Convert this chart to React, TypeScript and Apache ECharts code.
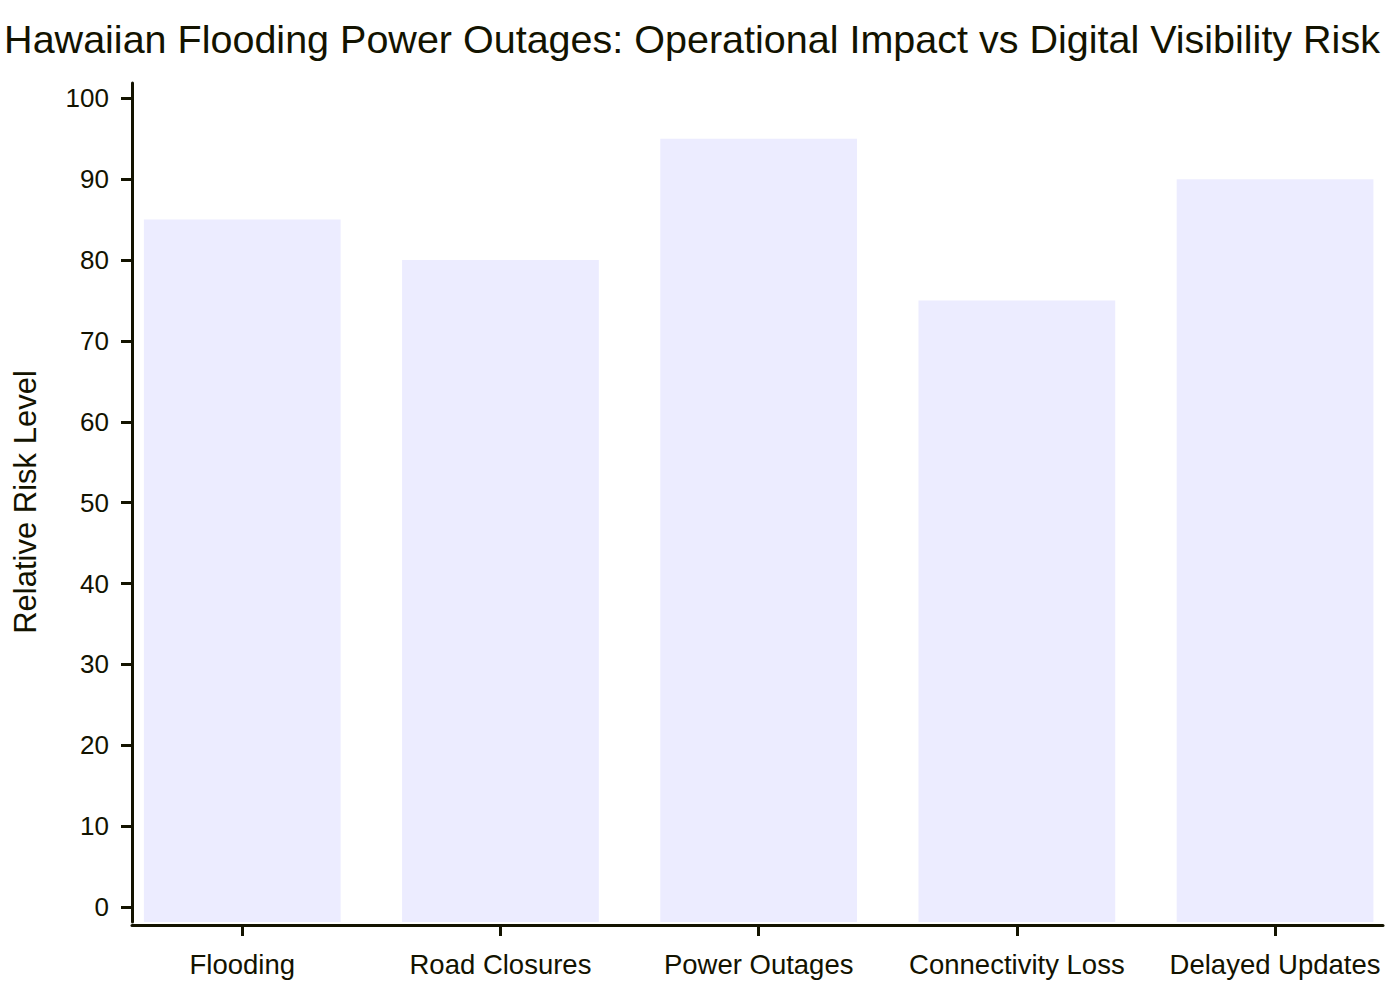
import React, { useEffect, useRef } from "react";
import * as echarts from "echarts";

const TITLE = "Hawaiian Flooding Power Outages: Operational Impact vs Digital Visibility Risk";
const Y_TITLE = "Relative Risk Level";
const categories = ["Flooding", "Road Closures", "Power Outages", "Connectivity Loss", "Delayed Updates"];
const riskValues = [85, 80, 95, 75, 90];
const yTicks = [0, 10, 20, 30, 40, 50, 60, 70, 80, 90, 100];

const TEXT = "#131300";
const BAR = "#ECECFF";
const FONT = "'Liberation Sans', Arial, sans-serif";

export default function App() {
  const ref = useRef<HTMLDivElement>(null);
  useEffect(() => {
    if (!ref.current) return;
    const chart = echarts.init(ref.current, null, { renderer: "svg" });
    const xIdx = categories.map((_, i) => i);
    chart.setOption({
      animation: false,
      backgroundColor: "#ffffff",
      textStyle: { fontFamily: FONT },
      grid: { left: 132, top: 83, width: 1251, height: 839, containLabel: false },
      xAxis: {
        type: "value",
        min: -0.427,
        max: 4.418,
        offset: 3,
        z: 5,
        splitLine: { show: false },
        axisLine: { show: true, onZero: false, lineStyle: { color: TEXT, width: 3 } },
        axisTick: { show: true, length: 11, lineStyle: { color: TEXT, width: 3 }, customValues: xIdx },
        axisLabel: {
          color: TEXT,
          fontSize: 27.5,
          fontFamily: FONT,
          margin: 25,
          customValues: xIdx,
          formatter: (v: number) => categories[Math.round(v)] ?? "",
        },
      },
      yAxis: {
        type: "value",
        min: -1.85,
        max: 101.89,
        z: 5,
        splitLine: { show: false },
        axisLine: { show: true, onZero: false, lineStyle: { color: TEXT, width: 3 } },
        axisTick: { show: true, length: 11, lineStyle: { color: TEXT, width: 3 }, customValues: yTicks },
        axisLabel: {
          color: TEXT,
          fontSize: 26,
          fontFamily: FONT,
          margin: 23,
          customValues: yTicks,
        },
      },
      graphic: [
        {
          type: "text",
          x: 692,
          y: 39,
          style: {
            text: TITLE,
            fill: TEXT,
            font: `39.5px ${FONT}`,
            textAlign: "center",
            textVerticalAlign: "middle",
          },
        },
        {
          type: "text",
          x: 25,
          y: 502,
          rotation: Math.PI / 2,
          style: {
            text: Y_TITLE,
            fill: TEXT,
            font: `31px ${FONT}`,
            textAlign: "center",
            textVerticalAlign: "middle",
          },
        },
      ],
      series: [
        {
          type: "custom",
          z: 1,
          data: riskValues.map((v, i) => [i, v]),
          renderItem: (params: any, api: any) => {
            const x = api.value(0);
            const v = api.value(1);
            const top = api.coord([x, v]);
            const cs = params.coordSys;
            const w = api.size([1, 0])[0] * 0.762;
            const bottom = cs.y + cs.height;
            return {
              type: "rect",
              shape: { x: top[0] - w / 2, y: top[1], width: w, height: bottom - top[1] },
              style: { fill: BAR },
            };
          },
        },
      ],
    });
    return () => chart.dispose();
  }, []);
  return (
    <div
      ref={ref}
      style={{ position: "fixed", left: 0, top: 0, width: 1400, height: 1000 }}
    />
  );
}
